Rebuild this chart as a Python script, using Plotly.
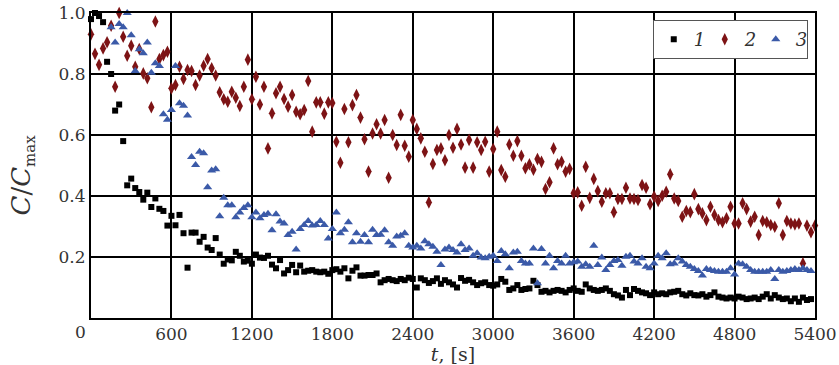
import plotly.graph_objects as go

# ---- data ----
step = 30  # sampling interval, s

s1_start = 0
s1 = [0.98, 1.00, 0.99, 0.97, 0.84, 0.80, 0.68, 0.70, 0.58, 0.435, 0.457, 0.426, 0.413, 0.388, 0.411, 0.364, 0.392, 0.358, 0.351, 0.303,
      0.335, 0.304, 0.338, 0.278, 0.165, 0.280, 0.280, 0.250, 0.266, 0.231, 0.223, 0.262, 0.208, 0.178, 0.192, 0.189, 0.217, 0.204, 0.185, 0.188,
      0.178, 0.208, 0.198, 0.197, 0.204, 0.175, 0.163, 0.190, 0.146, 0.157, 0.174, 0.150, 0.172, 0.152, 0.155, 0.157, 0.152, 0.150, 0.152, 0.145,
      0.157, 0.160, 0.152, 0.163, 0.130, 0.155, 0.166, 0.139, 0.139, 0.141, 0.141, 0.146, 0.117, 0.124, 0.128, 0.124, 0.121, 0.128, 0.124, 0.132,
      0.128, 0.100, 0.130, 0.124, 0.115, 0.121, 0.130, 0.112, 0.124, 0.117, 0.110, 0.100, 0.131, 0.122, 0.125, 0.117, 0.108, 0.114, 0.117, 0.108,
      0.106, 0.110, 0.128, 0.119, 0.092, 0.097, 0.108, 0.092, 0.095, 0.097, 0.122, 0.108, 0.086, 0.089, 0.084, 0.089, 0.092, 0.089, 0.084, 0.092,
      0.097, 0.089, 0.086, 0.110, 0.097, 0.092, 0.089, 0.092, 0.097, 0.089, 0.078, 0.074, 0.067, 0.092, 0.075, 0.095, 0.089, 0.084, 0.081, 0.075,
      0.084, 0.078, 0.081, 0.078, 0.084, 0.086, 0.089, 0.078, 0.074, 0.081, 0.075, 0.074, 0.078, 0.070, 0.075, 0.084, 0.070, 0.067, 0.064, 0.067,
      0.064, 0.070, 0.067, 0.062, 0.064, 0.067, 0.062, 0.070, 0.078, 0.064, 0.075, 0.067, 0.062, 0.064, 0.055, 0.064, 0.053, 0.067, 0.059, 0.062]

s2_start = 0
s2 = [0.930, 0.866, 0.830, 0.884, 0.904, 0.958, 0.758, 1.000, 0.922, 0.860, 0.893, 0.824, 0.882, 0.802, 0.786, 0.691, 0.972, 0.849, 0.862, 0.873,
      0.753, 0.764, 0.824, 0.784, 0.813, 0.810, 0.764, 0.795, 0.827, 0.849, 0.819, 0.795, 0.740, 0.717, 0.709, 0.742, 0.722, 0.695, 0.758, 0.847,
      0.717, 0.791, 0.700, 0.758, 0.556, 0.671, 0.737, 0.758, 0.718, 0.693, 0.731, 0.676, 0.668, 0.682, 0.777, 0.611, 0.707, 0.707, 0.670, 0.707,
      0.705, 0.578, 0.509, 0.685, 0.576, 0.698, 0.731, 0.657, 0.586, 0.480, 0.605, 0.635, 0.605, 0.649, 0.460, 0.600, 0.567, 0.666, 0.565, 0.529,
      0.649, 0.620, 0.589, 0.545, 0.379, 0.505, 0.551, 0.556, 0.517, 0.600, 0.558, 0.620, 0.569, 0.493, 0.584, 0.493, 0.576, 0.551, 0.578, 0.480,
      0.554, 0.611, 0.485, 0.463, 0.569, 0.532, 0.580, 0.532, 0.491, 0.504, 0.486, 0.521, 0.512, 0.423, 0.445, 0.556, 0.504, 0.512, 0.480, 0.489,
      0.409, 0.412, 0.368, 0.496, 0.394, 0.456, 0.416, 0.381, 0.409, 0.409, 0.347, 0.390, 0.390, 0.427, 0.392, 0.390, 0.387, 0.436, 0.427, 0.373,
      0.398, 0.384, 0.401, 0.414, 0.471, 0.392, 0.384, 0.332, 0.351, 0.347, 0.406, 0.357, 0.343, 0.321, 0.365, 0.338, 0.321, 0.314, 0.327, 0.365,
      0.310, 0.310, 0.376, 0.357, 0.316, 0.332, 0.272, 0.318, 0.314, 0.305, 0.299, 0.376, 0.272, 0.318, 0.310, 0.307, 0.310, 0.179, 0.303, 0.281, 0.303]

s3_start = 150
s3 = [0.953, 0.903, 0.964, 0.953, 1.000, 0.927, 0.810, 0.881, 0.868, 0.903, 0.804, 0.835, 0.826, 0.668, 0.650,
      0.682, 0.826, 0.704, 0.696, 0.664, 0.528, 0.502, 0.545, 0.540, 0.429, 0.484, 0.488, 0.334, 0.394, 0.370, 0.370, 0.330, 0.346, 0.361, 0.370,
      0.330, 0.346, 0.327, 0.338, 0.342, 0.288, 0.340, 0.316, 0.310, 0.272, 0.283, 0.225, 0.292, 0.305, 0.318, 0.303, 0.305, 0.318, 0.305, 0.261,
      0.292, 0.346, 0.278, 0.289, 0.314, 0.248, 0.278, 0.250, 0.272, 0.248, 0.289, 0.272, 0.273, 0.288, 0.248, 0.237, 0.267, 0.270, 0.278, 0.237,
      0.231, 0.237, 0.228, 0.252, 0.242, 0.234, 0.217, 0.174, 0.225, 0.231, 0.223, 0.215, 0.242, 0.223, 0.228, 0.204, 0.212, 0.198, 0.196, 0.201,
      0.204, 0.187, 0.220, 0.209, 0.163, 0.215, 0.217, 0.187, 0.179, 0.179, 0.228, 0.114, 0.226, 0.179, 0.204, 0.163, 0.187, 0.179, 0.204, 0.179,
      0.183, 0.185, 0.168, 0.176, 0.168, 0.237, 0.174, 0.198, 0.157, 0.174, 0.187, 0.190, 0.171, 0.201, 0.204, 0.185, 0.179, 0.196, 0.168, 0.163,
      0.179, 0.204, 0.196, 0.212, 0.176, 0.179, 0.196, 0.185, 0.174, 0.168, 0.161, 0.154, 0.139, 0.161, 0.157, 0.154, 0.152, 0.152, 0.152, 0.163,
      0.143, 0.179, 0.176, 0.168, 0.157, 0.152, 0.152, 0.152, 0.152, 0.157, 0.128, 0.157, 0.152, 0.154, 0.157, 0.161, 0.157, 0.163, 0.157, 0.154]

series_names = ["1", "2", "3"]
x_ticks = [600, 1200, 1800, 2400, 3000, 3600, 4200, 4800, 5400]
y_ticks = [0.2, 0.4, 0.6, 0.8, 1.0]


def times(start, vals):
    return [start + step * i for i in range(len(vals))]


SERIF = "DejaVu Serif"
TXT = "#333"

fig = go.Figure()
fig.add_trace(go.Scatter(x=times(s1_start, s1), y=s1, mode="markers", name="<i>%s</i>" % series_names[0],
                         marker=dict(symbol="square", size=6, color="black"), cliponaxis=False))
fig.add_trace(go.Scatter(x=times(s2_start, s2), y=s2, mode="markers", name="<i>%s</i>" % series_names[1],
                         marker=dict(symbol="diamond-tall", size=9, color="#7d1315"), cliponaxis=False))
fig.add_trace(go.Scatter(x=times(s3_start, s3), y=s3, mode="markers", name="<i>%s</i>" % series_names[2],
                         marker=dict(symbol="triangle-up", size=8, color="#3b5aa8"), cliponaxis=False))

axis_common = dict(showgrid=True, gridcolor="black", gridwidth=2, zeroline=False,
                   showline=True, linecolor="black", linewidth=2, mirror=True,
                   automargin=False, ticks="",
                   tickfont=dict(family=SERIF, size=17, color=TXT))

fig.update_xaxes(range=[0, 5400], tickvals=x_ticks, ticktext=[str(v) for v in x_ticks],
                 title=dict(text="<i>t</i>, [s]", font=dict(family=SERIF, size=19, color=TXT), standoff=6),
                 **axis_common)
fig.update_yaxes(range=[0, 1.0], tickvals=y_ticks, ticktext=["%.1f" % v for v in y_ticks],
                 **axis_common)

# y-axis title (larger italic C with small subscript, as in the reference)
fig.add_annotation(text="<i>C</i>/<i>C</i><sub><span style='font-size:15px'>max</span></sub>",
                   xref="paper", yref="paper", x=0, y=0.5, xshift=-69, yshift=-10,
                   xanchor="center", yanchor="middle", textangle=-90, showarrow=False,
                   font=dict(family=SERIF, size=26, color=TXT))

fig.add_annotation(text="0", xref="paper", yref="paper", x=0, y=0, xshift=-11, yshift=-2,
                   xanchor="center", yanchor="top", showarrow=False,
                   font=dict(family=SERIF, size=17, color=TXT))

fig.update_layout(
    width=839, height=365,
    margin=dict(l=91, r=24, t=13, b=47, autoexpand=False),
    paper_bgcolor="white", plot_bgcolor="white",
    legend=dict(orientation="h", x=0.99, xanchor="right", y=0.977, yanchor="top",
                bgcolor="white", bordercolor="#555", borderwidth=1,
                font=dict(family=SERIF, size=18, color=TXT), itemwidth=30, entrywidth=6),
)

fig.write_html("out.html")
